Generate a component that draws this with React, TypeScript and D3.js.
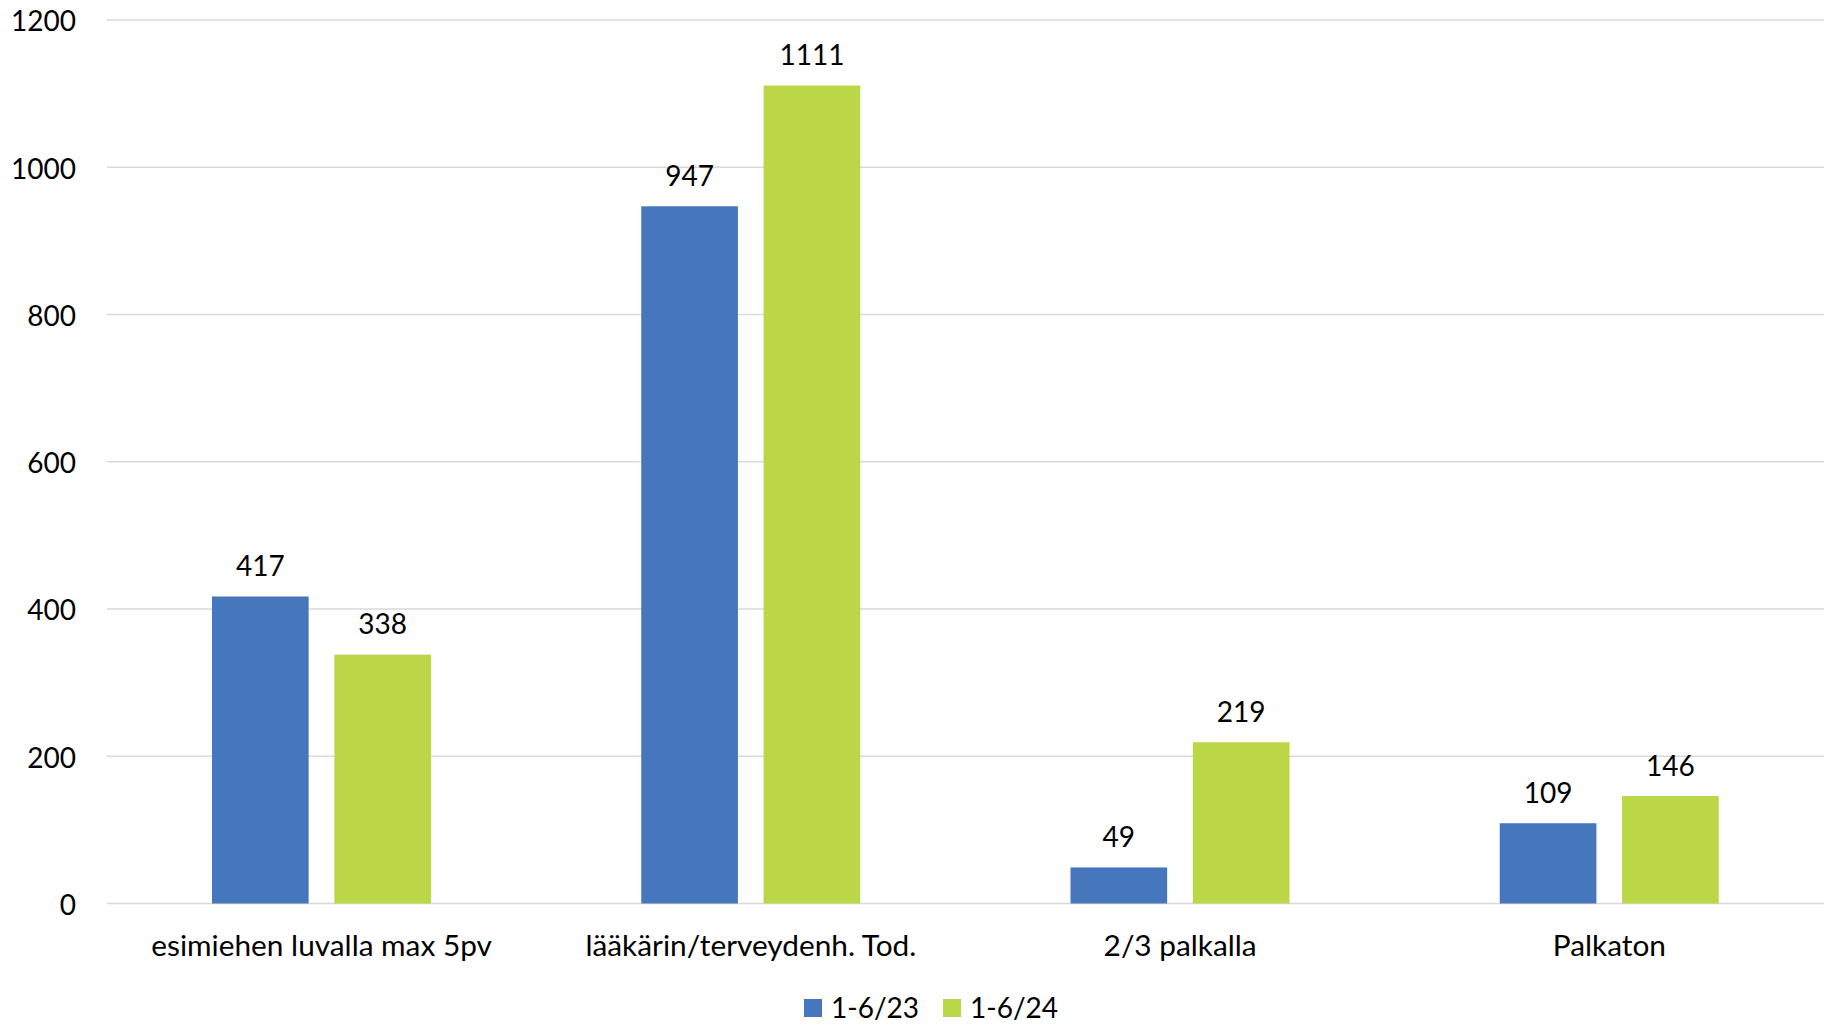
import React, { useEffect } from "react";
import * as d3 from "d3";

const categories = [
  "esimiehen luvalla max 5pv",
  "lääkärin/terveydenh. Tod.",
  "2/3 palkalla",
  "Palkaton",
];
const seriesNames = ["1-6/23", "1-6/24"];
const values2023 = [417, 947, 49, 109];
const values2024 = [338, 1111, 219, 146];
const yTicks = [0, 200, 400, 600, 800, 1000, 1200];
const colors = ["#4677BD", "#BBD647"];

const W = 1828;
const H = 1025;
const FONT = "Lato, 'Open Sans', sans-serif";

export default function App() {
  useEffect(() => {
    document.body.style.margin = "0";
  }, []);

  const x0 = d3.scaleBand<string>().domain(categories).range([107, 1824]).padding(0);
  const x1 = d3
    .scaleBand<string>()
    .domain(seriesNames)
    .range([105, 324])
    .paddingInner(0.21)
    .paddingOuter(0);
  const y = d3.scaleLinear().domain([0, 1200]).range([903.5, 20]);

  const seriesValues = [values2023, values2024];

  return (
    <svg width={W} height={H} style={{ display: "block", background: "#fff" }} fontFamily={FONT}>
      {yTicks.map((t) => (
        <g key={t}>
          <line x1={107} x2={1824} y1={y(t)} y2={y(t)} stroke="#D9D9D9" strokeWidth={1.5} />
          <text x={76} y={y(t) + 1.5} dy="0.35em" textAnchor="end" fontSize={28} fill="#000">
            {t}
          </text>
        </g>
      ))}
      {categories.map((c, i) => (
        <g key={c}>
          {seriesNames.map((s, j) => {
            const v = seriesValues[j][i];
            const bx = (x0(c) as number) + (x1(s) as number);
            return (
              <g key={s}>
                <rect
                  x={bx}
                  y={y(v)}
                  width={x1.bandwidth()}
                  height={y(0) - y(v)}
                  fill={colors[j]}
                />
                <text
                  x={bx + x1.bandwidth() / 2}
                  y={y(v) - 30}
                  dy="0.35em"
                  textAnchor="middle"
                  fontSize={28}
                  fill="#000"
                >
                  {v}
                </text>
              </g>
            );
          })}
          <text
            x={(x0(c) as number) + x0.bandwidth() / 2}
            y={946}
            dy="0.35em"
            textAnchor="middle"
            fontSize={29.8}
            fill="#000"
          >
            {c}
          </text>
        </g>
      ))}
      {seriesNames.map((s, j) => {
        const lx = [804, 943][j];
        return (
          <g key={s}>
            <rect x={lx} y={999} width={18} height={18} fill={colors[j]} />
            <text x={lx + 27} y={1008} dy="0.35em" fontSize={28} fill="#000">
              {s}
            </text>
          </g>
        );
      })}
    </svg>
  );
}
